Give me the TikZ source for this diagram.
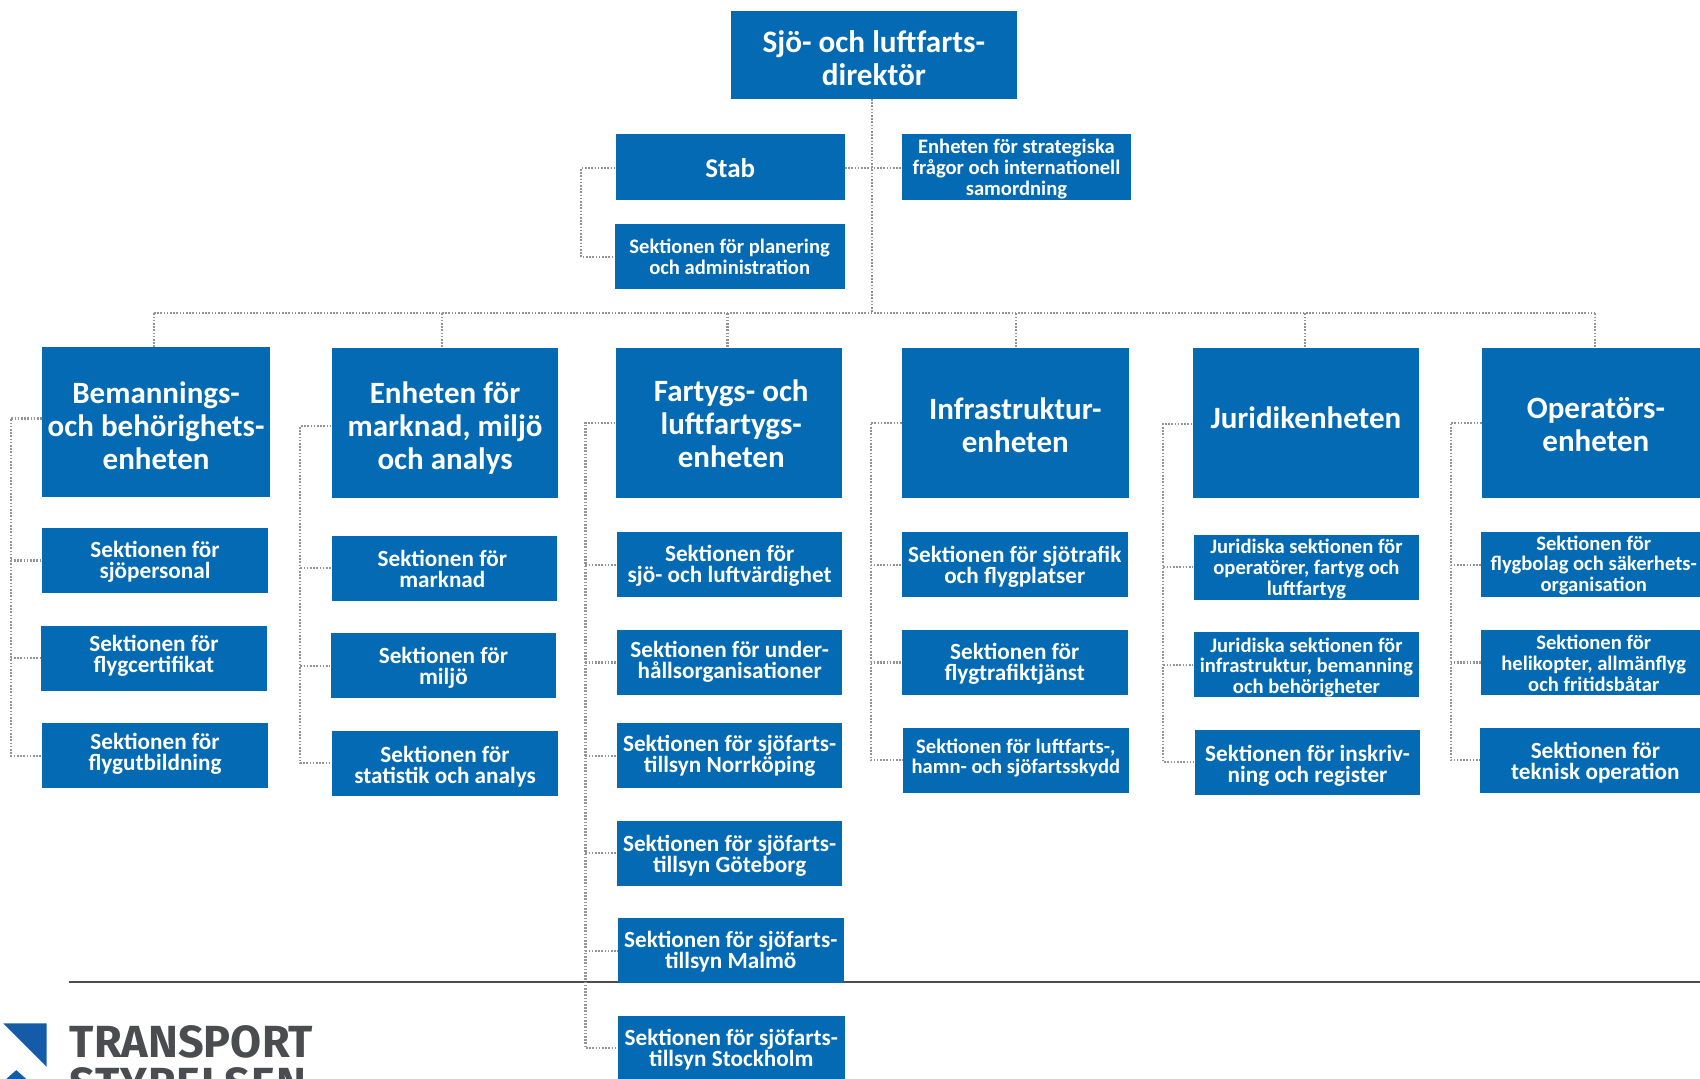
\documentclass[tikz,border=0pt]{standalone}
\usepackage{fontspec}
\setmainfont{Carlito}
\newfontfamily\logofont{Fira Sans}
\definecolor{tsblue}{HTML}{036AB3}
\definecolor{tsgrey}{HTML}{4A4C4F}
\definecolor{tslogo}{HTML}{145CA8}
\newcommand{\bx}[7][]{%
  \pgfmathsetmacro{\cxx}{(#3+#4)/2}\pgfmathsetmacro{\cyy}{(#5+#6)/2}%
  \pgfmathsetmacro{\ww}{(#4-#3)*0.5421}\pgfmathsetmacro{\hh}{(#6-#5)*0.5421}%
  \node[ubox,#1,minimum width=\ww pt,minimum height=\hh pt] (#2) at (\cxx,\cyy) {%
    \pgfmathparse{-0.5421*(\tdyv)}\edef\tdyr{\pgfmathresult pt}%
    \pgfmathparse{2*0.5421*(\tdxv)}\edef\tdxr{\pgfmathresult pt}%
    \hspace*{\tdxr}\raisebox{\dimexpr\tdyr-\fontdimen22\textfont2\relax}[0pt][0pt]{$\vcenter{\lineskiplimit=-100pt\let\\\cr\halign{\hfil##\hfil\cr\strut #7\crcr}}$}};}
\tikzset{
  tdy/.store in=\tdyv, tdy=0,
  tdx/.store in=\tdxv, tdx=0,
  ubox/.style={fill=tsblue,text=white,inner sep=0pt,font=\bfseries\fontsize{11.6}{10.5}\selectfont},
  fa/.style={font=\bfseries\fontsize{11.6}{10.5}\selectfont},
  fb/.style={font=\bfseries\fontsize{10.3}{10.4}\selectfont},
  fc/.style={font=\bfseries\fontsize{15.5}{16.5}\selectfont},
  fd/.style={font=\bfseries\fontsize{15.6}{16.3}\selectfont},
  fe/.style={font=\bfseries\fontsize{13.5}{14}\selectfont},
  conn/.style={draw=black!42,line width=1.05pt,dash pattern=on 0.8pt off 0.8pt},
  logotext/.style={text=tsgrey,inner sep=0pt,anchor=west,font=\logofont\bfseries\fontsize{22.5}{22}\selectfont}
}
\begin{document}
\begin{tikzpicture}[x=0.5421pt,y=-0.5421pt]
\useasboundingbox (0,0) rectangle (1568,994.3);
\clip (0,0) rectangle (1568,994.3);
% rule and connectors underneath
\coordinate (ruleL) at (64,906); \coordinate (ruleR) at (1568,906);
\draw[tsgrey,line width=1pt] (ruleL) -- (ruleR);
% top
\bx[fd,tdy=2.5]{dir}{674}{938}{10}{91}{Sjö- och luftfarts-\\direktör}
\bx[fe,tdy=5]{stab}{568}{779}{124}{184}{Stab}
\bx[fb,tdy=0]{plan}{567}{779}{207}{267}{Sektionen för planering\\och administration}
\bx[fb,tdy=2]{strat}{832}{1043}{124}{184}{Enheten för strategiska\\frågor och internationell\\samordning}
% col 1
\bx[fc,tdy=3]{p1}{39}{249}{320}{458}{Bemannings-\\och behörighets-\\enheten}
\bx[fa,tdy=1.5]{s11}{39}{247}{487}{547}{Sektionen för\\sjöpersonal}
\bx[fa,tdy=-2]{s12}{38}{246}{577}{637}{Sektionen för\\flygcertifikat}
\bx[fa,tdy=-1.5]{s13}{39}{247}{667}{727}{Sektionen för\\flygutbildning}
% col 2
\bx[fc,tdy=4]{p2}{306}{515}{321}{459}{Enheten för\\marknad, miljö\\och analys}
\bx[fa,tdy=1,tdx=-2]{s21}{306}{514}{494}{554}{Sektionen för\\marknad}
\bx[fa,tdy=1.5]{s22}{305}{513}{584}{644}{Sektionen för\\miljö}
\bx[fa,tdy=3]{s23}{306}{515}{674}{734}{Sektionen för\\statistik och analys}
% col 3
\bx[fc,tdy=0,tdx=2]{p3}{568}{777}{321}{459}{Fartygs- och\\luftfartygs-\\enheten}
\bx[fa,tdy=1]{s31}{569}{777}{491}{551}{Sektionen för\\sjö- och luftvärdighet}
\bx[fa,tdy=-1]{s32}{569}{777}{581}{641}{Sektionen för under-\\hållsorganisationer}
\bx[fa,tdy=0]{s33}{569}{777}{667}{727}{Sektionen för sjöfarts-\\tillsyn Norrköping}
\bx[fa,tdy=2]{s34}{569}{777}{757}{817}{Sektionen för sjöfarts-\\tillsyn Göteborg}
\bx[fa,tdy=1]{s35}{570}{778}{847}{907}{Sektionen för sjöfarts-\\tillsyn Malmö}
\bx[fa,tdy=1]{s36}{570}{779}{937}{997}{Sektionen för sjöfarts-\\tillsyn Stockholm}
% col 4
\bx[fc,tdy=1.5]{p4}{832}{1041}{321}{459}{Infrastruktur-\\enheten}
\bx[fa,tdy=1.5]{s41}{832}{1040}{491}{551}{Sektionen för sjötrafik\\och flygplatser}
\bx[fa,tdy=1.5]{s42}{832}{1040}{581}{641}{Sektionen för\\flygtrafiktjänst}
\bx[fb,tdy=-2]{s43}{833}{1041}{671}{731}{Sektionen för luftfarts-,\\hamn- och sjöfartsskydd}
% col 5
\bx[fc,tdy=-1]{p5}{1100}{1309}{321}{459}{Juridikenheten}
\bx[fb,tdy=2]{s51}{1101}{1309}{493}{553}{Juridiska sektionen för\\operatörer, fartyg och\\luftfartyg}
\bx[fb,tdy=2.5]{s52}{1101}{1309}{583}{643}{Juridiska sektionen för\\infrastruktur, bemanning\\och behörigheter}
\bx[fa,tdy=3]{s53}{1102}{1310}{673}{733}{Sektionen för inskriv-\\ning och register}
% col 6
\bx[fc,tdy=0.5]{p6}{1367}{1577}{321}{459}{Operatörs-\\enheten}
\bx[fb,tdy=0.5]{s61}{1366}{1574}{491}{551}{Sektionen för\\flygbolag och säkerhets-\\organisation}
\bx[fb,tdy=1]{s62}{1366}{1574}{581}{641}{Sektionen för\\helikopter, allmänflyg\\och fritidsbåtar}
\bx[fa,tdy=2,tdx=2.5]{s63}{1365}{1573}{671}{731}{Sektionen för\\teknisk operation}
% spine
\coordinate (sp) at (804,289);
\coordinate (t1) at (142,289);\coordinate (t2) at (408,289);\coordinate (t3) at (671,289);
\coordinate (t4) at (937,289);\coordinate (t5) at (1204,289);\coordinate (t6) at (1471,289);
\draw[conn] (dir.south -| sp) -- (sp);
\draw[conn] (t1) -- (t6);
\draw[conn] (t1) -- (t1 |- p1.north);
\draw[conn] (t2) -- (t2 |- p2.north);
\draw[conn] (t3) -- (t3 |- p3.north);
\draw[conn] (t4) -- (t4 |- p4.north);
\draw[conn] (t5) -- (t5 |- p5.north);
\draw[conn] (t6) -- (t6 |- p6.north);
\coordinate (sy) at (804,155);
\draw[conn] (stab.east |- sy) -- (strat.west |- sy);
\coordinate (bs) at (536,155);
\draw[conn] (stab.west |- bs) -- (bs) |- (plan.west);
% column buses
\coordinate (b1) at (10,386);
\draw[conn] (p1.west |- b1) -- (b1) |- (s13.west);
\draw[conn] (b1 |- s11) -- (s11.west); \draw[conn] (b1 |- s12) -- (s12.west);
\coordinate (b2) at (277,393);
\draw[conn] (p2.west |- b2) -- (b2) |- (s23.west);
\draw[conn] (b2 |- s21) -- (s21.west); \draw[conn] (b2 |- s22) -- (s22.west);
\coordinate (b3) at (540,390);
\draw[conn] (p3.west |- b3) -- (b3) |- (s36.west);
\draw[conn] (b3 |- s31) -- (s31.west); \draw[conn] (b3 |- s32) -- (s32.west);
\draw[conn] (b3 |- s33) -- (s33.west); \draw[conn] (b3 |- s34) -- (s34.west);
\draw[conn] (b3 |- s35) -- (s35.west);
\coordinate (b4) at (803,390);
\draw[conn] (p4.west |- b4) -- (b4) |- (s43.west);
\draw[conn] (b4 |- s41) -- (s41.west); \draw[conn] (b4 |- s42) -- (s42.west);
\coordinate (b5) at (1073,391);
\draw[conn] (p5.west |- b5) -- (b5) |- (s53.west);
\draw[conn] (b5 |- s51) -- (s51.west); \draw[conn] (b5 |- s52) -- (s52.west);
\coordinate (b6) at (1338,390);
\draw[conn] (p6.west |- b6) -- (b6) |- (s63.west);
\draw[conn] (b6 |- s61) -- (s61.west); \draw[conn] (b6 |- s62) -- (s62.west);
% logo
\fill[tslogo] (3,944) -- (43,944) -- (43,984) -- cycle;
\fill[tslogo] (15,987) -- (24,995) -- (6,995) -- cycle;
\node[logotext] (lg1) at (64,961) {TRANSPORT};
\node[logotext] (lg2) at (64,1000) {\addfontfeature{LetterSpace=2}STYRELSEN};
\end{tikzpicture}
\end{document}
